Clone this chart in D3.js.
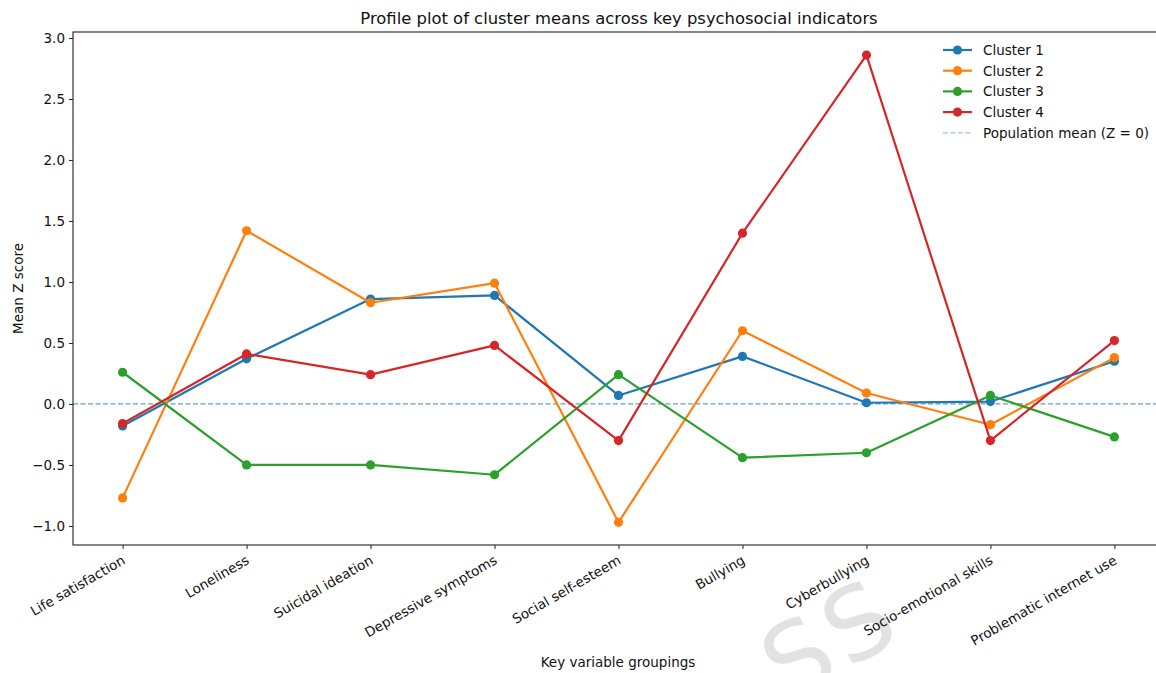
<!DOCTYPE html>
<html>
<head>
<meta charset="utf-8">
<script src="https://cdn.jsdelivr.net/npm/d3@7"></script>
<style>
  html, body { margin: 0; padding: 0; background: #fff; }
  svg { display: block; font-family: "DejaVu Sans", sans-serif; }
</style>
</head>
<body>
<svg id="chart" width="1156" height="673"></svg>
<script>
// Psychosocial indicators on the x axis
const indicators = [
  "Life satisfaction", "Loneliness", "Suicidal ideation", "Depressive symptoms",
  "Social self-esteem", "Bullying", "Cyberbullying", "Socio-emotional skills",
  "Problematic internet use"
];

// Mean Z score per cluster, one value per indicator
const cluster1 = [-0.18, 0.37, 0.86, 0.89, 0.07, 0.39, 0.01, 0.02, 0.35];
const cluster2 = [-0.77, 1.42, 0.83, 0.99, -0.97, 0.60, 0.09, -0.17, 0.38];
const cluster3 = [0.26, -0.50, -0.50, -0.58, 0.24, -0.44, -0.40, 0.07, -0.27];
const cluster4 = [-0.16, 0.41, 0.24, 0.48, -0.30, 1.40, 2.86, -0.30, 0.52];

const seriesNames = ["Cluster 1", "Cluster 2", "Cluster 3", "Cluster 4"];
const seriesColors = ["#1f77b4", "#ff7f0e", "#2ca02c", "#d62728"];
const yTicks = [-1.0, -0.5, 0.0, 0.5, 1.0, 1.5, 2.0, 2.5, 3.0];
const meanLabel = "Population mean (Z = 0)";

const series = [cluster1, cluster2, cluster3, cluster4].map((vals, i) => ({
  name: seriesNames[i], color: seriesColors[i], values: vals
}));

const svg = d3.select("#chart");
const margin = { left: 73, top: 32, right: -8, bottom: 128 };
const W = 1156, H = 673;
const plotL = margin.left, plotT = margin.top;
const plotR = W - margin.right, plotB = H - margin.bottom;
const FS = 13.5;

const x = d3.scaleLinear().domain([-0.4, indicators.length - 1 + 0.4]).range([plotL, plotR]);
const y = d3.scaleLinear().domain([-1.156, 3.049]).range([plotB, plotT]);

// Watermark behind everything
svg.append("text")
  .attr("transform", "translate(788,704) rotate(-30)")
  .attr("font-size", 100)
  .attr("letter-spacing", 6)
  .attr("fill", "#e2e2e2")
  .attr("font-family", "DejaVu Sans, sans-serif")
  .text("SS");

const g = svg.append("g");

// Zero reference line
g.append("line")
  .attr("x1", plotL).attr("x2", plotR)
  .attr("y1", y(0)).attr("y2", y(0))
  .attr("stroke", "#1f77b4").attr("stroke-opacity", 0.7)
  .attr("stroke-width", 1.2).attr("stroke-dasharray", "5,2.5");

// Cluster profiles
const line = d3.line().x((d, i) => x(i)).y(d => y(d));
series.forEach(s => {
  g.append("path")
    .datum(s.values)
    .attr("d", line)
    .attr("fill", "none")
    .attr("stroke", s.color)
    .attr("stroke-width", 2.2)
    .attr("stroke-linejoin", "round");
  g.selectAll(null)
    .data(s.values)
    .enter().append("circle")
    .attr("cx", (d, i) => x(i))
    .attr("cy", d => y(d))
    .attr("r", 4.6)
    .attr("fill", s.color);
});

// Frame
g.append("rect")
  .attr("x", plotL).attr("y", plotT)
  .attr("width", plotR - plotL).attr("height", plotB - plotT)
  .attr("fill", "none").attr("stroke", "#222").attr("stroke-width", 1.1);

// Y axis
const yAxis = d3.axisLeft(y).tickValues(yTicks)
  .tickFormat(d => d < 0 ? "\u2212" + Math.abs(d).toFixed(1) : d.toFixed(1))
  .tickSize(4).tickPadding(4);
const yG = svg.append("g").attr("transform", `translate(${plotL},0)`).call(yAxis);
yG.select(".domain").remove();
yG.selectAll("text").attr("font-size", FS).attr("fill", "#111").attr("font-family", "DejaVu Sans, sans-serif");
yG.selectAll("line").attr("stroke", "#222");

// X axis
const xAxis = d3.axisBottom(x).tickValues(d3.range(indicators.length))
  .tickFormat(i => indicators[i]).tickSize(4).tickPadding(4);
const xG = svg.append("g").attr("transform", `translate(0,${plotB})`).call(xAxis);
xG.select(".domain").remove();
xG.selectAll("line").attr("stroke", "#222");
xG.selectAll("text")
  .attr("font-size", FS).attr("fill", "#111").attr("font-family", "DejaVu Sans, sans-serif")
  .attr("text-anchor", "end")
  .attr("dy", null).attr("y", 0)
  .attr("transform", "translate(3,18) rotate(-30)");

// Title and axis labels
svg.append("text").attr("x", 619).attr("y", 24)
  .attr("text-anchor", "middle").attr("font-size", 16.4).attr("fill", "#111")
  .text("Profile plot of cluster means across key psychosocial indicators");
svg.append("text").attr("x", 618).attr("y", 667)
  .attr("text-anchor", "middle").attr("font-size", FS).attr("fill", "#111")
  .text("Key variable groupings");
svg.append("text").attr("transform", `translate(23,${(plotT + plotB) / 2}) rotate(-90)`)
  .attr("text-anchor", "middle").attr("font-size", FS).attr("fill", "#111")
  .text("Mean Z score");

// Legend
const leg = svg.append("g").attr("transform", "translate(943,50)");
const rowH = 20.7;
series.forEach((s, i) => {
  const r = leg.append("g").attr("transform", `translate(0,${i * rowH})`);
  r.append("line").attr("x1", 0).attr("x2", 29).attr("stroke", s.color).attr("stroke-width", 2.2);
  r.append("circle").attr("cx", 14.5).attr("r", 4.6).attr("fill", s.color);
  r.append("text").attr("x", 40).attr("y", 5).attr("font-size", FS).attr("fill", "#111").text(s.name);
});
const mr = leg.append("g").attr("transform", `translate(0,${4 * rowH})`);
mr.append("line").attr("x1", 0).attr("x2", 29)
  .attr("stroke", "#1f77b4").attr("stroke-opacity", 0.45)
  .attr("stroke-width", 1.3).attr("stroke-dasharray", "5,2.5");
mr.append("text").attr("x", 40).attr("y", 5).attr("font-size", FS).attr("fill", "#111").text(meanLabel);
</script>
</body>
</html>
